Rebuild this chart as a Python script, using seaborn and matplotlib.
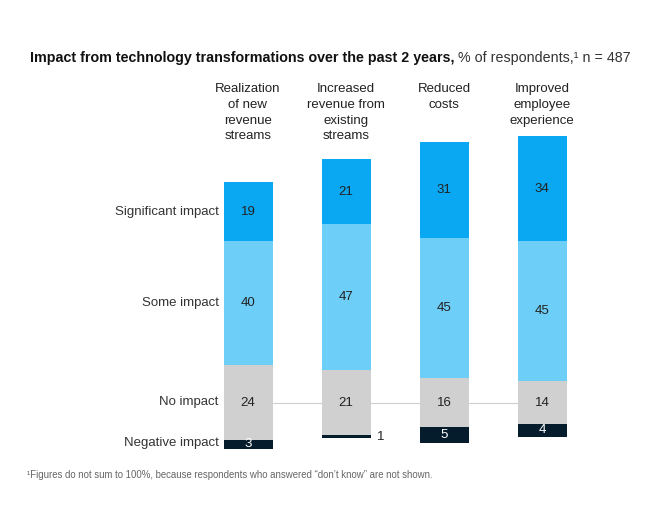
import matplotlib
matplotlib.use("Agg")
import matplotlib.pyplot as plt
import seaborn as sns
import pandas as pd
import numpy as np

categories = ["Realization\nof new\nrevenue\nstreams",
              "Increased\nrevenue from\nexisting\nstreams",
              "Reduced\ncosts",
              "Improved\nemployee\nexperience"]
significant = [19, 21, 31, 34]
some = [40, 47, 45, 45]
no_impact = [24, 21, 16, 14]
negative = [3, 1, 5, 4]
row_labels = ["Significant impact", "Some impact", "No impact", "Negative impact"]

c_sig = "#0AA8F2"
c_some = "#6DCFF7"
c_no = "#D0D0D0"
c_neg = "#051C2C"
txt = "#222222"

sns.set_theme(style="white")
plt.rcParams["font.family"] = ["Liberation Sans", "DejaVu Sans"]

fig = plt.figure(figsize=(6.45, 5.30), dpi=100)
W, H = 645, 530
left_px, right_px = 199, 591
top_px, bot_px = 130, 460
ax = fig.add_axes([left_px / W, (H - bot_px) / H, (right_px - left_px) / W, (bot_px - top_px) / H])

zero_px = 402.5
scale = 3.1
ax.set_xlim(-0.5, 3.5)
ax.set_ylim(-(bot_px - zero_px) / scale, (zero_px - top_px) / scale)

df = pd.DataFrame({"cat": categories, "sig": significant, "some": some,
                   "no": no_impact, "neg": negative})
half = df["no"] / 2.0

ax.plot([0, 3], [0, 0], color="#CFCFCF", lw=0.8, zorder=0)

segments = [
    ("no", -half, c_no),
    ("some", half, c_some),
    ("sig", half + df["some"], c_sig),
    ("neg", -half - df["neg"], c_neg),
]
for col, bottom, color in segments:
    sns.barplot(data=df, x="cat", y=col, bottom=list(bottom), color=color,
                width=0.5, ax=ax, saturation=1, linewidth=0, zorder=2)

for i in range(len(categories)):
    h = half[i]
    ax.text(i, h + some[i] + significant[i] / 2, str(significant[i]), ha="center", va="center",
            fontsize=9.5, color=txt, zorder=3)
    ax.text(i, h + some[i] / 2, str(some[i]), ha="center", va="center",
            fontsize=9.5, color=txt, zorder=3)
    ax.text(i, 0, str(no_impact[i]), ha="center", va="center",
            fontsize=9.5, color=txt, zorder=3)
    if negative[i] >= 3:
        ax.text(i, -h - negative[i] / 2, str(negative[i]), ha="center", va="center",
                fontsize=9.5, color="white", zorder=3)
    else:
        ax.text(i + 0.32, -h - negative[i] / 2, str(negative[i]), ha="left", va="center",
                fontsize=9.5, color=txt, zorder=3)
    ax.text(i, (zero_px - 83) / scale, categories[i], ha="center", va="top",
            fontsize=9.5, color=txt, linespacing=1.42, clip_on=False)

# row labels aligned with first bar
h0 = half[0]
row_y = [h0 + some[0] + significant[0] / 2, h0 + some[0] / 2, 0, -h0 - negative[0] / 2 + 0.5]
for lab, y in zip(row_labels, row_y):
    ax.text(-0.30, y, lab, ha="right", va="center", fontsize=9.5, color="#333333", clip_on=False)

ax.set_axis_off()

# title
tsize = 10.3
t1 = fig.text(30 / W, 1 - 58 / H, "Impact from technology transformations over the past 2 years,",
              fontsize=tsize, fontweight="bold", color="#111111", va="center", ha="left")
fig.canvas.draw()
bb = t1.get_window_extent()
fig.text((bb.x1 + 4) / W, 1 - 58 / H, "% of respondents,¹ n = 487",
         fontsize=tsize, color="#333333", va="center", ha="left")

fig.text(27 / W, 1 - 475 / H,
         "¹Figures do not sum to 100%, because respondents who answered \u201cdon\u2019t know\u201d are not shown.",
         fontsize=6.9, color="#666666", va="center", ha="left")

fig.savefig("out.png", dpi=100, facecolor="white")
